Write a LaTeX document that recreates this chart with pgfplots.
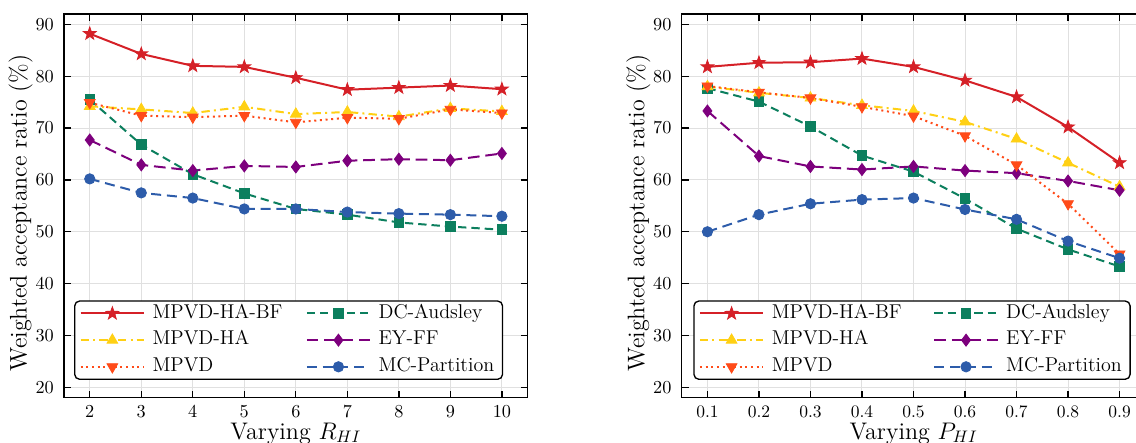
\documentclass[border=0pt]{standalone}
\usepackage{pgfplots}
\pgfplotsset{compat=1.18}
\usepackage{pgfplotstable}
\usetikzlibrary{plotmarks}

\definecolor{cBF}{RGB}{213,32,39}
\definecolor{cHA}{RGB}{255,208,20}
\definecolor{cMP}{RGB}{255,75,25}
\definecolor{cDC}{RGB}{12,127,94}
\definecolor{cEY}{RGB}{125,0,125}
\definecolor{cMC}{RGB}{45,92,170}

\pgfdeclareplotmark{fstar}{%
  \pgfpathmoveto{\pgfpointpolar{90}{1\pgfplotmarksize}}%
  \pgfpathlineto{\pgfpointpolar{126}{0.4\pgfplotmarksize}}%
  \pgfpathlineto{\pgfpointpolar{162}{1\pgfplotmarksize}}%
  \pgfpathlineto{\pgfpointpolar{198}{0.4\pgfplotmarksize}}%
  \pgfpathlineto{\pgfpointpolar{234}{1\pgfplotmarksize}}%
  \pgfpathlineto{\pgfpointpolar{270}{0.4\pgfplotmarksize}}%
  \pgfpathlineto{\pgfpointpolar{306}{1\pgfplotmarksize}}%
  \pgfpathlineto{\pgfpointpolar{342}{0.4\pgfplotmarksize}}%
  \pgfpathlineto{\pgfpointpolar{18}{1\pgfplotmarksize}}%
  \pgfpathlineto{\pgfpointpolar{54}{0.4\pgfplotmarksize}}%
  \pgfpathclose
  \pgfusepathqfillstroke
}

\pgfplotstableread{
x bf ha mpvd dc ey mc
2 88.2 74.2 74.9 75.5 67.7 60.2
3 84.3 73.6 72.4 66.8 62.9 57.5
4 82.0 72.9 72.1 61.1 61.8 56.5
5 81.8 74.1 72.4 57.4 62.7 54.4
6 79.7 72.7 71.1 54.4 62.5 54.4
7 77.4 73.1 72.0 53.3 63.7 53.8
8 77.8 72.2 71.8 51.8 64.0 53.5
9 78.2 73.8 73.6 51.0 63.8 53.3
10 77.5 73.2 72.9 50.4 65.1 53.0
}\leftdata

\pgfplotstableread{
x bf ha mpvd dc ey mc
0.1 81.8 78.0 78.1 77.7 73.3 50.0
0.2 82.6 76.8 76.9 75.1 64.6 53.3
0.3 82.7 75.8 75.8 70.3 62.6 55.4
0.4 83.4 74.4 74.1 64.7 62.0 56.2
0.5 81.8 73.3 72.3 61.6 62.6 56.5
0.6 79.2 71.2 68.5 56.4 61.8 54.3
0.7 76.0 67.9 62.9 50.6 61.3 52.4
0.8 70.2 63.3 55.4 46.6 59.8 48.2
0.9 63.3 58.7 45.7 43.3 58.0 44.9
}\rightdata

\pgfplotsset{
  myaxis/.style={
    scale only axis,
    width=278.2pt, height=230.2pt,
    anchor=north west,
    ymin=18, ymax=92,
    ytick={20,30,40,50,60,70,80,90},
    grid=major,
    grid style={line width=0.6pt, draw=black!12},
    axis line style={line width=0.9pt},
    every tick/.style={black, line width=0.8pt},
    major tick length=4.2pt,
    tick align=inside,
    xtick pos=both, ytick pos=both,
    tick label style={font=\fontsize{10.5}{12}\selectfont},
    yticklabel style={xshift=-2.6pt},
    xticklabel style={yshift=-1.5pt},
    label style={font=\fontsize{14.4}{17}\selectfont},
    ylabel={Weighted acceptance ratio (\%)},
    ylabel style={at={(axis description cs:-0.0805,0.482)}, anchor=base},
    xlabel style={at={(axis description cs:0.5,-0.1082)}, anchor=base},
    legend columns=2,
    legend cell align=left,
    legend image code/.code={%
      \draw[mark repeat=2,mark phase=2,##1] plot coordinates {(0pt,0pt) (19pt,0pt) (38pt,0pt)};},
    legend style={anchor=south west, draw=black, line width=0.8pt,
      rounded corners=3pt, fill=white,
      font=\fontsize{12}{14}\selectfont,
      inner xsep=3pt, inner ysep=1.2pt, row sep=3.4pt,
      column sep=2.5pt,
      nodes={inner ysep=1pt, text height=8.2pt, text depth=2.4pt}},
  },
  sBF/.style={color=cBF, solid, line width=1.2pt, mark=fstar, mark size=4pt, mark options={solid, line width=0.5pt}},
  sHA/.style={color=cHA, line width=1.2pt, dash pattern=on 5pt off 2.5pt on 1.2pt off 2.5pt, mark=triangle*, mark size=3.7pt, mark options={solid, line width=0.5pt}},
  sMP/.style={color=cMP, line width=1.2pt, dash pattern=on 1.2pt off 2.2pt, mark=triangle*, mark size=3.7pt, mark options={solid, rotate=180, line width=0.5pt}},
  sDC/.style={color=cDC, line width=1.2pt, dash pattern=on 5pt off 3pt, mark=square*, mark size=2.9pt, mark options={solid, line width=0.5pt}},
  sEY/.style={color=cEY, line width=1.2pt, dash pattern=on 7pt off 3.5pt, mark=diamond*, mark size=3.6pt, mark options={solid, line width=0.5pt}},
  sMC/.style={color=cMC, line width=1.2pt, dash pattern=on 6pt off 3.5pt, mark=*, mark size=3.1pt, mark options={solid, line width=0.5pt}},
}

\begin{document}
\begin{tikzpicture}
\begin{axis}[myaxis,
  at={(38.4pt,-8.4pt)},
  xmin=1.5, xmax=10.5,
  xtick={2,3,4,5,6,7,8,9,10},
  xlabel={Varying $R_{HI}$},
  legend style={at={(axis description cs:0.0216,0.0461)},
    /tikz/every even column/.append style={column sep=12pt}},
]
\addplot[sBF] table[x=x,y=bf]{\leftdata};
\addlegendentry{MPVD-HA-BF}
\addplot[sDC] table[x=x,y=dc]{\leftdata};
\addlegendentry{DC-Audsley}
\addplot[sHA] table[x=x,y=ha]{\leftdata};
\addlegendentry{MPVD-HA}
\addplot[sEY] table[x=x,y=ey]{\leftdata};
\addlegendentry{EY-FF}
\addplot[sMP] table[x=x,y=mpvd]{\leftdata};
\addlegendentry{MPVD}
\addplot[sMC] table[x=x,y=mc]{\leftdata};
\addlegendentry{MC-Partition}
\end{axis}

\begin{axis}[myaxis,
  at={(409.0pt,-8.4pt)},
  xmin=0.05, xmax=0.95,
  xtick={0.1,0.2,0.3,0.4,0.5,0.6,0.7,0.8,0.9},
  xticklabels={0.1,0.2,0.3,0.4,0.5,0.6,0.7,0.8,0.9},
  xlabel={Varying $P_{HI}$},
  legend style={at={(axis description cs:0.025,0.0461)},
    /tikz/every even column/.append style={column sep=17pt}},
]
\addplot[sBF] table[x=x,y=bf]{\rightdata};
\addlegendentry{MPVD-HA-BF}
\addplot[sDC] table[x=x,y=dc]{\rightdata};
\addlegendentry{DC-Audsley}
\addplot[sHA] table[x=x,y=ha]{\rightdata};
\addlegendentry{MPVD-HA}
\addplot[sEY] table[x=x,y=ey]{\rightdata};
\addlegendentry{EY-FF}
\addplot[sMP] table[x=x,y=mpvd]{\rightdata};
\addlegendentry{MPVD}
\addplot[sMC] table[x=x,y=mc]{\rightdata};
\addlegendentry{MC-Partition}
\end{axis}
\pgfresetboundingbox
\path[use as bounding box] (0pt,0pt) rectangle (681.6pt,-265.2pt);
\end{tikzpicture}
\end{document}
